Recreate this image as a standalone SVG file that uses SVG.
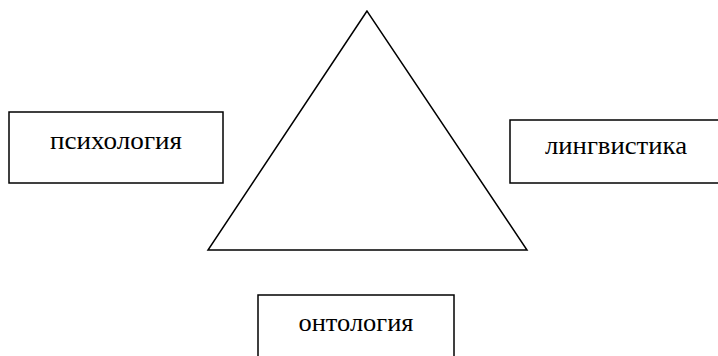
<svg xmlns="http://www.w3.org/2000/svg" width="718" height="356" viewBox="0 0 718 356">
<style>
.box{fill:#fff;stroke:#000;stroke-width:1.5}
.lbl{font-family:"Liberation Serif","Times New Roman",serif;font-size:25px;fill:#000;text-anchor:middle}
.tri{fill:none;stroke:#000;stroke-width:1.5}
</style>
<rect width="718" height="356" fill="#fff"/>
<g id="triangle">
<polygon class="tri" points="367,11 208,250 527,250"/>
</g>
<g id="psychology">
<rect class="box" x="9" y="112" width="214" height="71"/>
<text class="lbl" x="116" y="149" textLength="132" lengthAdjust="spacingAndGlyphs">психология</text>
</g>
<g id="linguistics">
<rect class="box" x="510" y="120" width="220" height="63"/>
<text class="lbl" x="616" y="154" textLength="142" lengthAdjust="spacingAndGlyphs">лингвистика</text>
</g>
<g id="ontology">
<rect class="box" x="258" y="295" width="196" height="80"/>
<text class="lbl" x="356" y="331" textLength="115" lengthAdjust="spacingAndGlyphs">онтология</text>
</g>
<g id="connectors"></g>
</svg>
